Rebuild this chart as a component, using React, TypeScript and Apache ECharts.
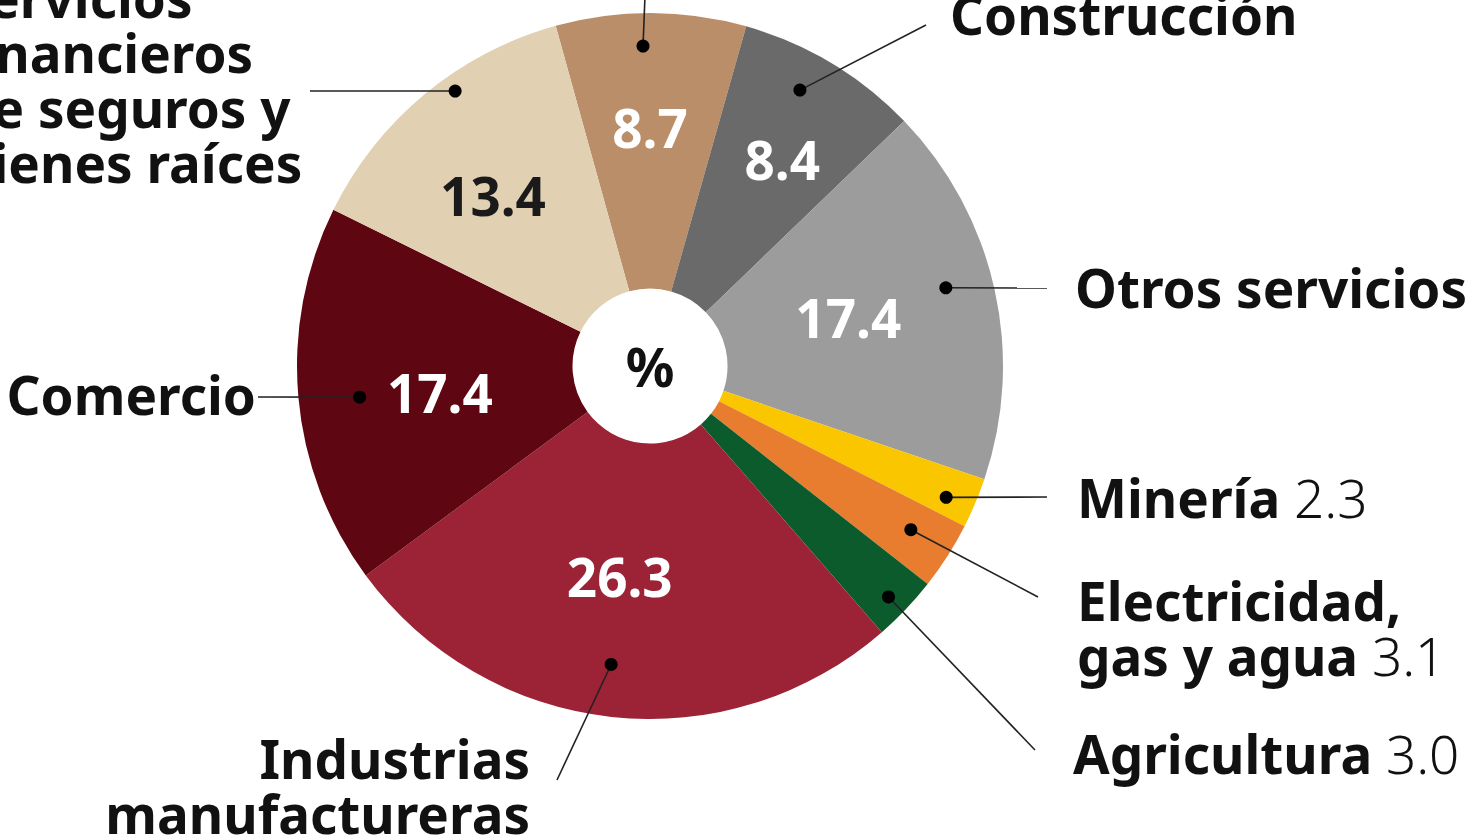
import React, { useEffect, useRef } from "react";
import * as echarts from "echarts";

// ---- data ----
const CATEGORIES = [
  "Transporte",
  "Construcción",
  "Otros servicios",
  "Minería",
  "Electricidad, gas y agua",
  "Agricultura",
  "Industrias manufactureras",
  "Comercio",
  "Servicios financieros, de seguros y bienes raíces",
];
const VALUES = [8.7, 8.4, 17.4, 2.3, 3.1, 3.0, 26.3, 17.4, 13.4];
const COLORS = [
  "#ba8e68",
  "#6a6a6a",
  "#9c9c9c",
  "#f9c600",
  "#e97d2f",
  "#0b5b2c",
  "#9b2335",
  "#5e0713",
  "#e1d0b2",
];
const LABEL_LINES: string[][] = [
  [],
  ["Construcción"],
  ["Otros servicios"],
  ["Minería"],
  ["Electricidad,", "gas y agua"],
  ["Agricultura"],
  ["Industrias", "manufactureras"],
  ["Comercio"],
  ["Servicios", "financieros", "de seguros y", "bienes raíces"],
];
const VALUE_OUTSIDE = [false, false, false, true, true, true, false, false, false];
const VALUE_COLORS = ["#fff", "#fff", "#fff", "", "", "", "#fff", "#fff", "#1a1a1a"];

// ---- layout (positions/styles only) ----
const CX = 650;
const CY = 366;
const R_OUT = 353;
const R_IN = 77.5;
const START = 105.5;
const FONT = '"Noto Sans", "Open Sans", sans-serif';
const FS = 53;
const LH = 55;

type Lay = {
  dotF: number;
  dotR: number;
  end: [number, number];
  text?: [number, number];
  align?: "left" | "right";
  valF?: number;
  valR?: number;
};
const LAYOUT: Lay[] = [
  { dotF: 0.455, dotR: 320 / R_OUT, end: [645, -4], valF: 0.495, valR: 0.677 },
  { dotF: 0.42, dotR: 314 / R_OUT, end: [926, 25], text: [950, 14], align: "left", valF: 0.557, valR: 0.694 },
  { dotF: 0.465, dotR: 306 / R_OUT, end: [1047, 288], text: [1075, 287], align: "left", valF: 0.484, valR: 0.578 },
  { dotF: 0.63, dotR: 324 / R_OUT, end: [1047, 497], text: [1077, 497], align: "left" },
  { dotF: 0.46, dotR: 308 / R_OUT, end: [1038, 597], text: [1077, 628], align: "left" },
  { dotF: 0.55, dotR: 332 / R_OUT, end: [1035, 750], text: [1073, 753], align: "left" },
  { dotF: 0.512, dotR: 301 / R_OUT, end: [557, 780], text: [530, 786], align: "right", valF: 0.52, valR: 0.603 },
  { dotF: 0.483, dotR: 292 / R_OUT, end: [258, 397], text: [256, 394], align: "right", valF: 0.467, valR: 0.6 },
  { dotF: 0.589, dotR: 337 / R_OUT, end: [310, 91], text: [-41, 80], align: "left", valF: 0.438, valR: 0.657 },
];

export default function App() {
  const ref = useRef<HTMLDivElement>(null);
  useEffect(() => {
    document.body.style.margin = "0";
    if (!ref.current) return;
    const chart = echarts.init(ref.current, undefined, { renderer: "svg" });

    const starts: number[] = [];
    let acc = 0;
    VALUES.forEach((v) => {
      starts.push(acc);
      acc += v;
    });
    const total = acc;

    const rich = {
      b: { fontFamily: FONT, fontSize: FS, fontWeight: 700, color: "#111", lineHeight: LH },
      l: { fontFamily: FONT, fontSize: FS, fontWeight: 300, color: "#111", lineHeight: LH },
    };

    const option: any = {
      animation: false,
      backgroundColor: "#fff",
      polar: { center: [CX, CY], radius: R_OUT },
      angleAxis: {
        type: "value",
        min: 0,
        max: total,
        startAngle: START,
        clockwise: true,
        show: false,
      },
      radiusAxis: { type: "value", min: 0, max: 1, show: false },
      series: [
        {
          type: "pie",
          center: [CX, CY],
          radius: [R_IN, R_OUT],
          startAngle: START,
          clockwise: true,
          label: { show: false },
          labelLine: { show: false },
          emphasis: { disabled: true },
          itemStyle: { borderWidth: 0 },
          data: CATEGORIES.map((name, i) => ({
            name,
            value: VALUES[i],
            itemStyle: { color: COLORS[i] },
          })),
          z: 2,
        },
        {
          type: "custom",
          coordinateSystem: "polar",
          z: 5,
          silent: true,
          data: VALUES.map((v, i) => [0, starts[i], v]),
          renderItem: (params: any, api: any) => {
            const i = params.dataIndex;
            const s = api.value(1);
            const v = api.value(2);
            const L = LAYOUT[i];
            const dot = api.coord([L.dotR, s + L.dotF * v]);
            const children: any[] = [];
            children.push({
              type: "line",
              shape: { x1: dot[0], y1: dot[1], x2: L.end[0], y2: L.end[1] },
              style: { stroke: "#222", lineWidth: 1.6 },
            });
            children.push({
              type: "circle",
              shape: { cx: dot[0], cy: dot[1], r: 6.5 },
              style: { fill: "#000" },
            });
            const lines = LABEL_LINES[i];
            if (L.text && lines.length) {
              const parts = lines.map((ln, k) => {
                let t = `{b|${ln}}`;
                if (VALUE_OUTSIDE[i] && k === lines.length - 1) {
                  t += `{l| ${VALUES[i].toFixed(1)}}`;
                }
                return t;
              });
              children.push({
                type: "text",
                x: L.text[0],
                y: L.text[1],
                style: {
                  text: parts.join("\n"),
                  rich,
                  fontFamily: FONT,
                  fontSize: FS,
                  fontWeight: 700,
                  lineHeight: LH,
                  fill: "#111",
                  align: L.align,
                  verticalAlign: "middle",
                },
              });
            }
            if (L.valF !== undefined && L.valR !== undefined) {
              const p = api.coord([L.valR, s + L.valF * v]);
              children.push({
                type: "text",
                x: p[0],
                y: p[1],
                style: {
                  text: VALUES[i].toFixed(1),
                  fontFamily: FONT,
                  fontSize: FS,
                  fontWeight: 700,
                  fill: VALUE_COLORS[i],
                  align: "center",
                  verticalAlign: "middle",
                },
              });
            }
            return { type: "group", children };
          },
        },
      ],
      graphic: [
        {
          type: "text",
          x: CX,
          y: CY,
          z: 10,
          style: {
            text: "%",
            fontFamily: FONT,
            fontSize: 54,
            fontWeight: 700,
            fill: "#111",
            align: "center",
            verticalAlign: "middle",
          },
        },
      ],
    };
    chart.setOption(option);
    return () => chart.dispose();
  }, []);
  return <div ref={ref} style={{ width: 1481, height: 838 }} />;
}
